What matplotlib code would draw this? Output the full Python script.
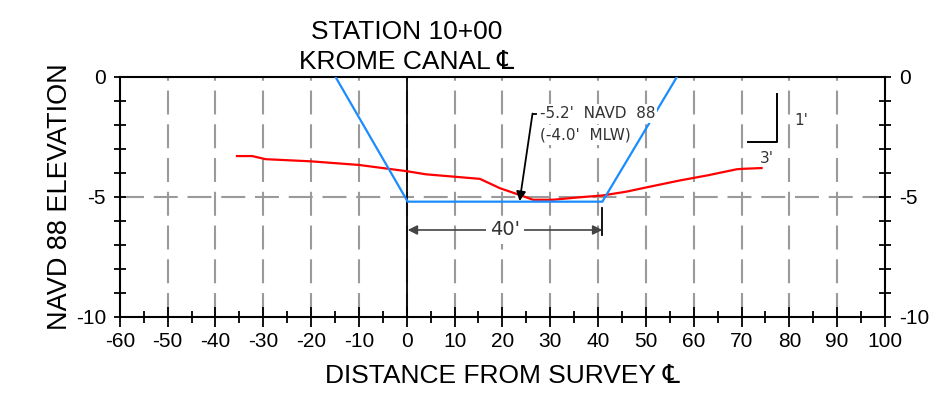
import matplotlib
matplotlib.use("Agg")
import matplotlib.pyplot as plt
import matplotlib.transforms as mtransforms

plt.rcParams["font.family"] = ["Liberation Sans", "DejaVu Sans"]
plt.rcParams["axes.unicode_minus"] = False

# existing bottom (survey)
survey_x = [-35.5, -32.3, -29.5, -20, -10, 0, 4, 15.3, 19.5, 23.6, 26.4, 30.6, 36, 41, 46, 50, 57, 63, 69, 70.4, 74.2]
survey_y = [-3.3, -3.3, -3.43, -3.52, -3.67, -3.93, -4.06, -4.25, -4.64, -4.92, -5.12, -5.12, -5.02, -4.94, -4.78, -4.61, -4.32, -4.1, -3.85, -3.83, -3.8]

# design channel template
channel_x = [-14.9, 0.2, 40.9, 56.5]
channel_y = [0, -5.2, -5.2, 0]

x_major = list(range(-60, 101, 10))
x_minor = list(range(-55, 100, 10))
y_major = [0, -5, -10]
y_minor = [-1, -2, -3, -4, -6, -7, -8, -9]
grid_x = list(range(-50, 100, 10))

fig = plt.figure(figsize=(9.36, 4.11), dpi=100)
ax = fig.add_axes([0.128, 0.229, 0.8175, 0.584])
ax.set_xlim(-60, 100)
ax.set_ylim(-10, 0)

dash = (0, (11.5, 4.7))
for gx in grid_x:
    ax.axvline(gx, color="#9a9a9a", lw=1.5, ls=dash, zorder=1)
ax.axhline(-5, color="#9a9a9a", lw=1.5, ls=dash, zorder=1)
ax.axvline(0, color="black", lw=1.3, zorder=2)

ax.plot(survey_x, survey_y, color="#ff0000", lw=1.6, zorder=3)
ax.plot(channel_x, channel_y, color="#1a8cff", lw=1.6, zorder=3)

# callout for design depth
note_kw = dict(family="DejaVu Sans", fontsize=11, color="#333333")
ax.text(27.8, -1.52, "-5.2'  NAVD  88", va="center", ha="left", zorder=5,
        bbox=dict(fc="white", ec="none", pad=1.5), **note_kw)
ax.text(27.8, -2.42, "(-4.0'  MLW)", va="center", ha="left", zorder=5,
        bbox=dict(fc="white", ec="none", pad=1.5), **note_kw)
ax.plot([26.3, 27.1], [-1.53, -1.53], color="black", lw=1.3, zorder=6)
ax.annotate("", xy=(23.6, -5.18), xytext=(26.3, -1.53), zorder=6,
            arrowprops=dict(arrowstyle="-|>", color="black", lw=1.3,
                            mutation_scale=14, shrinkA=0, shrinkB=0))

# 40' bottom width dimension
ax.plot([40.9, 40.9], [-5.45, -6.6], color="black", lw=1.3, zorder=4)
for end in (0.2, 40.9):
    ax.annotate("", xy=(end, -6.38), xytext=(20.5, -6.38), zorder=4,
                arrowprops=dict(arrowstyle="-|>", color="#444444", lw=1.2,
                                mutation_scale=14, shrinkA=0, shrinkB=0))
ax.text(20.5, -6.38, "40'", ha="center", va="center", zorder=5,
        family="DejaVu Sans", fontsize=14, color="#333333",
        bbox=dict(fc="white", ec="none", pad=3))

# slope symbol 3:1
ax.plot([71.4, 77.5, 77.5], [-2.71, -2.71, -0.72], color="black", lw=1.4, zorder=4)
ax.text(81.0, -1.8, "1'", ha="left", va="center", **note_kw)
ax.text(75.3, -3.4, "3'", ha="center", va="center", **note_kw)

# ticks
ax.set_xticks(x_major)
ax.set_xticks(x_minor, minor=True)
ax.set_yticks(y_major)
ax.set_yticks(y_minor, minor=True)
ax.tick_params(axis="x", which="major", direction="inout", length=14, width=1.3,
               labelsize=15, pad=4)
ax.tick_params(axis="x", which="minor", direction="inout", length=8, width=1.3)
ax.tick_params(axis="y", which="both", direction="inout", length=8, width=1.3,
               labelsize=15, left=True, right=True, labelleft=True, labelright=True)
ax.tick_params(axis="y", which="major", pad=6)
for sp in ax.spines.values():
    sp.set_linewidth(1.5)

ax.set_xlabel("DISTANCE FROM SURVEY \u2104", fontsize=19, labelpad=9)
ax.set_ylabel("NAVD 88 ELEVATION", fontsize=19.5, labelpad=2)

trans = mtransforms.blended_transform_factory(ax.transData, ax.transAxes)
ax.text(0, 1.01, "STATION 10+00\nKROME CANAL \u2104", transform=trans,
        ha="center", va="bottom", fontsize=19, linespacing=1.35)

fig.savefig("out.png", dpi=100)
